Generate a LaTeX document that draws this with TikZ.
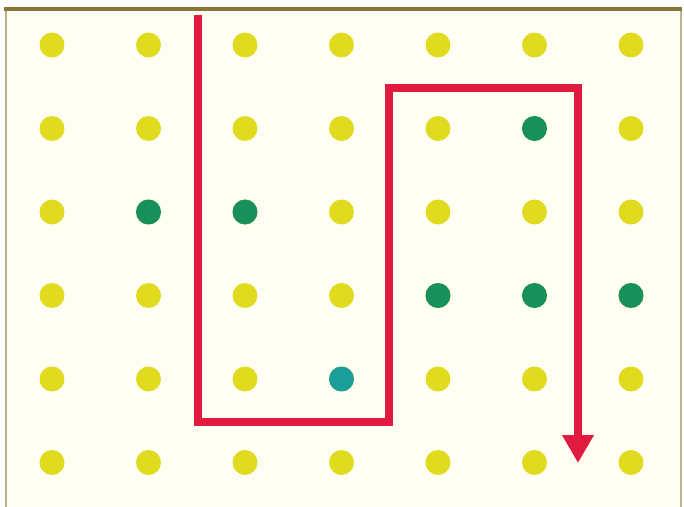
\documentclass[tikz,border=0pt]{standalone}
\usepackage{xcolor}
\usetikzlibrary{arrows.meta}

\definecolor{paper}{HTML}{FFFEF3}
\definecolor{frame}{HTML}{8A7536}
\definecolor{dotyellow}{HTML}{E0DB1F}
\definecolor{dotgreen}{HTML}{17905E}
\definecolor{dotteal}{HTML}{1A9E9A}
\definecolor{routered}{HTML}{E11A40}

\begin{document}
\begin{tikzpicture}[
  x=0.02cm, y=-0.02cm,
  dot/.style={circle, fill=dotyellow, inner sep=0pt, minimum size=0.5cm},
  hit/.style={dot, fill=dotgreen},
  tealhit/.style={dot, fill=dotteal},
  route/.style={draw=routered, line width=0.16cm, line join=miter, -{Triangle[width=0.6cm, length=0.56cm]}}
]
  % page and frame
  \useasboundingbox (0,0) rectangle (684,507);
  \fill[white] (0,0) rectangle (684,507);
  \fill[paper] (6,10) rectangle (681,507);
  \draw[frame!55, line width=0.03cm] (6,10) -- (6,507);
  \draw[frame!55, line width=0.03cm] (681,10) -- (681,507);
  \fill[frame] (4,7.5) rectangle (682,11);

  % grid of dots
  \foreach \c/\x in {1/52, 2/148.5, 3/245, 4/341.5, 5/438, 6/534.5, 7/631}
    \foreach \r/\y in {1/45, 2/128.5, 3/212, 4/295.5, 5/379, 6/462.5}
      \node[dot] (d-\c-\r) at (\x,\y) {};

  % green dots on top
  \foreach \c/\r in {6/2, 2/3, 3/3, 5/4, 6/4, 7/4}
    \node[hit] at (d-\c-\r) {};
  \node[tealhit] at (d-4-5) {};

  % route corners
  \coordinate (start) at (198,15);
  \coordinate (c1) at (198,422);
  \coordinate (c2) at (389,422);
  \coordinate (c3) at (389,88);
  \coordinate (c4) at (578,88);
  \coordinate (finish) at (578,463);

  \draw[route] (start) -- (c1) -- (c2) -- (c3) -- (c4) -- (finish);
\end{tikzpicture}
\end{document}
